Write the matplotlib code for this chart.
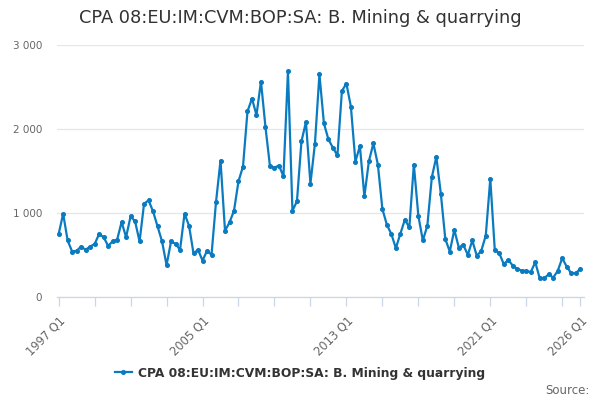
import matplotlib.pyplot as plt
from matplotlib.ticker import FuncFormatter

# quarterly categories, 1997 Q1 .. 2026 Q1
quarters = [f'{y} Q{q}' for y in range(1997, 2027) for q in range(1, 5)][:117]

values = [
    749, 992, 673, 541, 550, 601, 562, 601, 630, 749,
    713, 609, 661, 681, 892, 713, 960, 900, 661, 1111,
    1151, 1019, 840, 661, 379, 661, 633, 562, 992, 848,
    518, 562, 434, 550, 502, 1131, 1625, 789, 888, 1027,
    1378, 1553, 2210, 2362, 2166, 2565, 2023, 1557, 1541, 1565,
    1437, 2685, 1027, 1139, 1852, 2083, 1350, 1824, 2652, 2067,
    1876, 1777, 1685, 2453, 2541, 2266, 1613, 1796, 1198, 1617,
    1828, 1577, 1048, 860, 749, 582, 753, 920, 828, 1577,
    968, 673, 848, 1425, 1669, 1231, 689, 541, 800, 589,
    621, 502, 673, 490, 550, 732, 1406, 562, 522, 391,
    442, 374, 335, 314, 311, 295, 415, 223, 223, 271,
    231, 311, 462, 362, 283, 283, 335,
]

series_name = 'CPA 08:EU:IM:CVM:BOP:SA: B. Mining & quarrying'
label_quarters = ['1997 Q1', '2005 Q1', '2013 Q1', '2021 Q1', '2026 Q1']
yticks = [0, 1000, 2000, 3000]

blue = '#0a7bc0'
axis_col = '#ccd6eb'

fig = plt.figure(figsize=(6, 4), dpi=100)
ax = fig.add_axes([0.0955, 0.2575, 0.8775, 0.63])

x = list(range(len(values)))
ax.plot(x, values, '-o', color=blue, lw=1.6, ms=2.6, label=series_name,
        clip_on=False, zorder=3)

ax.set_xlim(-0.3, 116.8)
ax.set_ylim(0, 3000)

ax.set_yticks(yticks)
ax.yaxis.set_major_formatter(FuncFormatter(lambda v, p: f'{v:,.0f}'.replace(',', ' ')))
ax.tick_params(axis='y', length=0, pad=11, labelsize=7.5, labelcolor='#666666')
ax.grid(axis='y', color='#e6e6e6', lw=0.9)
ax.set_axisbelow(True)

major = [quarters.index(q) for q in label_quarters]
minor = [i for i in range(0, len(quarters), 8) if i not in major]
ax.set_xticks(major)
ax.set_xticklabels(label_quarters, rotation=45, ha='right', va='top',
                   rotation_mode='anchor')
ax.set_xticks(minor, minor=True)
ax.tick_params(axis='x', which='both', length=6.3, width=0.9, color=axis_col,
               labelsize=8.3, labelcolor='#666666', pad=6)

for side in ['top', 'right', 'left']:
    ax.spines[side].set_visible(False)
ax.spines['bottom'].set_color(axis_col)
ax.spines['bottom'].set_linewidth(0.9)

fig.text(0.5, 0.955, series_name, ha='center', va='center',
         fontsize=12.8, color='#333333')

leg = fig.legend(loc='center', bbox_to_anchor=(0.5, 1 - 373 / 400),
                 frameon=False, handlelength=1.4, handletextpad=0.5,
                 prop={'weight': 'bold', 'size': 8.8})
for t in leg.get_texts():
    t.set_color('#333333')

fig.text(0.983, 1 - 390 / 400, 'Source:', ha='right', va='center',
         fontsize=8.5, color='#666666')

fig.savefig('out.png', dpi=100)
